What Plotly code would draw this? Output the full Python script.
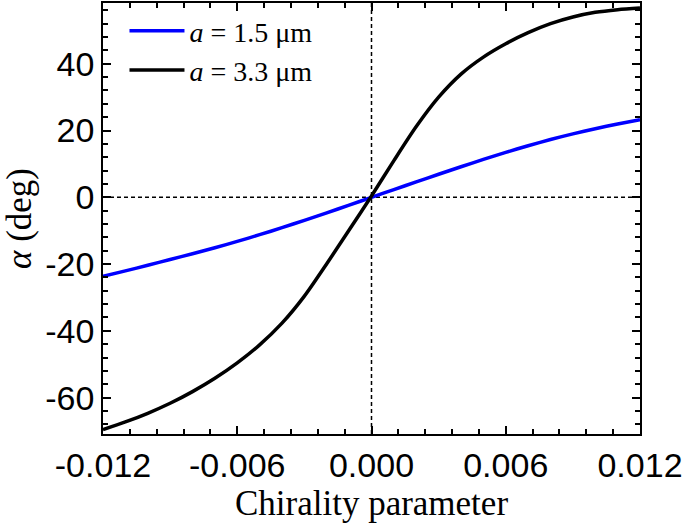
import plotly.graph_objects as go

# Data
chirality = [-0.012, -0.011, -0.010, -0.009, -0.008, -0.007, -0.006, -0.005, -0.004,
             -0.003, -0.002, -0.001, 0.000, 0.001, 0.002, 0.003, 0.004, 0.005,
             0.006, 0.007, 0.008, 0.009, 0.010, 0.011, 0.012]
alpha_a15 = [-23.7, -22.05, -20.35, -18.65, -16.9, -15.1, -13.2, -11.2, -9.1,
             -6.9, -4.65, -2.35, 0.0, 2.3, 4.6, 6.9, 9.15, 11.35,
             13.45, 15.45, 17.3, 19.0, 20.55, 21.95, 23.25]
alpha_a33 = [-69.6, -67.3, -64.7, -61.7, -58.2, -54.2, -49.6, -44.2, -37.7,
             -29.6, -19.9, -9.8, 0.4, 11.0, 21.2, 30.0, 36.9, 42.0,
             46.0, 49.3, 52.0, 54.0, 55.4, 56.2, 56.7]
series_names = ["<i>a</i> = 1.5 μm", "<i>a</i> = 3.3 μm"]
x_ticks = [-0.012, -0.006, 0.0, 0.006, 0.012]
x_tick_labels = ["-0.012", "-0.006", "0.000", "0.006", "0.012"]
y_ticks = [-60, -40, -20, 0, 20, 40]
y_tick_labels = ["-60", "-40", "-20", "0", "20", "40"]

fig = go.Figure()
fig.add_trace(go.Scatter(x=chirality, y=alpha_a15, mode="lines", name=series_names[0],
                         line=dict(color="#0000FF", width=3.5, shape="spline", smoothing=0.8)))
fig.add_trace(go.Scatter(x=chirality, y=alpha_a33, mode="lines", name=series_names[1],
                         line=dict(color="#000000", width=3.5, shape="spline", smoothing=0.8)))

fig.add_shape(type="line", xref="x", yref="paper", x0=0, x1=0, y0=0, y1=1,
              line=dict(color="black", width=1.5, dash="4px,3px"), layer="below")
fig.add_shape(type="line", xref="paper", yref="y", x0=0, x1=1, y0=0, y1=0,
              line=dict(color="black", width=1.5, dash="4px,3px"), layer="below")

axis_common = dict(showline=True, linecolor="black", linewidth=1.5, mirror="ticks",
                   ticks="inside", ticklen=8, tickwidth=1.5, tickcolor="black",
                   showgrid=False, zeroline=False,
                   tickfont=dict(family="Liberation Sans, Arial", size=34, color="black"))

fig.update_xaxes(range=[-0.012, 0.012], tickvals=x_ticks, ticktext=x_tick_labels,
                 minor=dict(dtick=0.0012, ticklen=5, tickwidth=1.5, tickcolor="black",
                            ticks="inside", showgrid=False),
                 title=dict(text="Chirality parameter", standoff=6,
                            font=dict(family="Liberation Serif, Times New Roman", size=35, color="black")),
                 **axis_common)
fig.update_yaxes(range=[-70.9, 58.2], tickvals=y_ticks, ticktext=y_tick_labels,
                 minor=dict(dtick=4, ticklen=5, tickwidth=1.5, tickcolor="black",
                            ticks="inside", showgrid=False),
                 title=dict(text="<i>α</i> (deg)", standoff=6,
                            font=dict(family="Liberation Serif, Times New Roman", size=35, color="black")),
                 **axis_common)

fig.update_layout(
    width=685, height=529,
    margin=dict(l=103, r=45, t=3, b=95, autoexpand=False),
    plot_bgcolor="white", paper_bgcolor="white",
    showlegend=True,
    legend=dict(x=0.04, y=0.993, xanchor="left", yanchor="top",
                bgcolor="rgba(0,0,0,0)", itemwidth=55,
                font=dict(family="Liberation Serif, Times New Roman", size=28, color="black"),
                tracegroupgap=2),
)

fig.write_html("out.html", config={"displayModeBar": False},
               post_script="document.body.style.margin='0px';")
